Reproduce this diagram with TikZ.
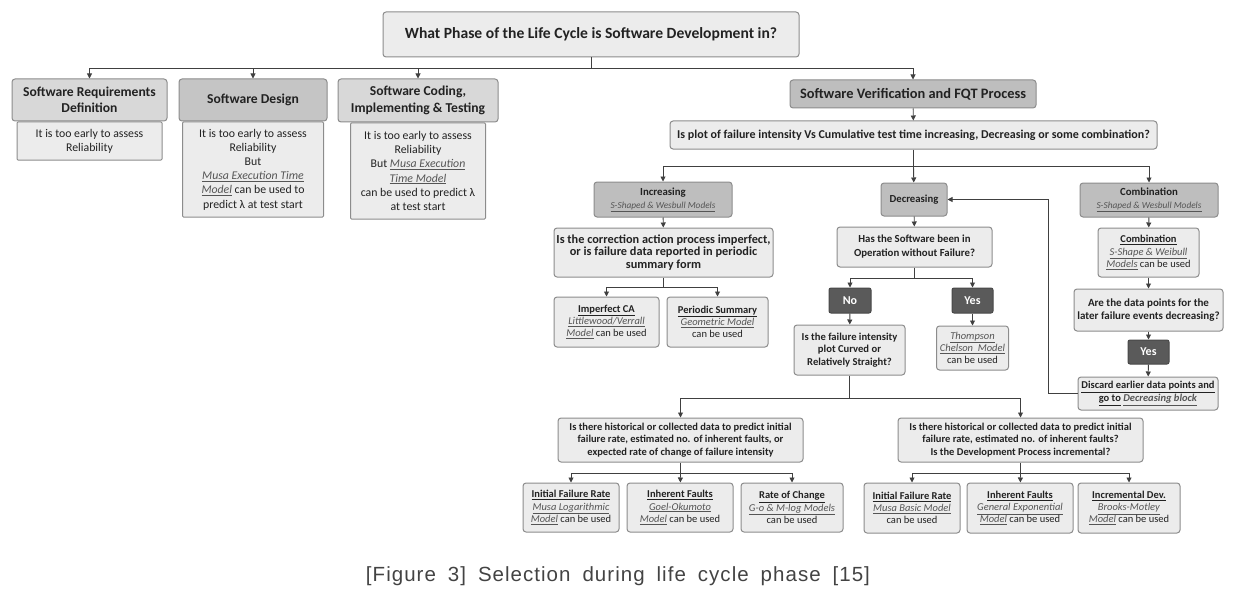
\documentclass[tikz,border=0pt]{standalone}
\usepackage{fontspec}
\setmainfont{Carlito}
\newfontfamily\capfont[LetterSpace=5]{Liberation Sans}
\usetikzlibrary{arrows.meta,positioning}
\definecolor{lightbox}{HTML}{ECECEC}
\definecolor{darkbox}{HTML}{BEBEBE}
\definecolor{headbox}{HTML}{D8D8D8}
\definecolor{edgegray}{HTML}{8C8C8C}
\definecolor{nyfill}{HTML}{5A5A5A}
\definecolor{conn}{HTML}{404040}
\definecolor{txt}{HTML}{222222}
\definecolor{modeltxt}{HTML}{555555}
\newcommand{\fsz}[2]{\fontsize{#1}{#2}\selectfont}
\newcommand{\mdl}[1]{{\color{modeltxt}\underline{\textit{#1}}}}
\newcommand{\hd}[1]{\underline{\textbf{#1}}}

\begin{document}
\begin{tikzpicture}[x=1pt,y=-1pt,
  lbox/.style={draw=edgegray, fill=lightbox, rounded corners=3pt, line width=1pt, align=center, inner sep=1pt, text=txt},
  dbox/.style={lbox, fill=darkbox},
  hbox/.style={lbox, fill=headbox, font=\bfseries\fsz{13.6}{16.5}},
  bbox/.style={lbox, rounded corners=1pt, font=\fsz{11.8}{14.2}},
  qbox/.style={lbox, font=\bfseries\fsz{12.3}{12.8}},
  mbox/.style={lbox, font=\fsz{10.5}{12.2}},
  nbox/.style={draw=nyfill!80!black, fill=nyfill, rounded corners=2pt, line width=1pt, text=white, font=\bfseries\fsz{12}{14}},
  con/.style={line width=0.9pt, draw=conn},
  arr/.style={con, -{Triangle[width=5pt,length=5pt]}}]
  \useasboundingbox (0,0) rectangle (1244,591);

  % top question
  \node[lbox, minimum width=416pt, minimum height=45pt, font=\bfseries\fsz{15.6}{18}] (phase) at (591,34.5) {What Phase of the Life Cycle is Software Development in?};
  \coordinate (pbar) at (591,68);

  % early phases
  \node[hbox, minimum width=155pt, minimum height=42pt] (reqH) at (89.5,100) {Software Requirements\\Definition};
  \node[bbox, minimum width=145pt, minimum height=38pt, below=0pt of reqH] (reqB) {It is too early to assess\\Reliability};
  \node[hbox, fill=darkbox!90!white, minimum width=148pt, minimum height=42pt] (desH) at (253,100) {Software Design};
  \node[bbox, minimum width=141pt, minimum height=95pt, below=0pt of desH] (desB) {It is too early to assess\\Reliability\\But\\\mdl{Musa Execution Time}\\\mdl{Model} can be used to\\predict λ at test start};
  \node[hbox, minimum width=160pt, minimum height=43pt] (codH) at (418,100.5) {Software Coding,\\Implementing \& Testing};
  \node[bbox, minimum width=135pt, minimum height=96pt, below=0pt of codH] (codB) {It is too early to assess\\Reliability\\But \mdl{Musa Execution}\\\mdl{Time Model}\\can be used to predict λ\\at test start};

  % verification and FQT
  \node[dbox, minimum width=246pt, minimum height=28pt, font=\bfseries\fsz{14.4}{16}] (verif) at (913,94) {Software Verification and FQT Process};
  \node[lbox, minimum width=487pt, minimum height=28pt, font=\bfseries\fsz{12}{13}] (trend) at (913.5,135) {Is plot of failure intensity Vs Cumulative test time increasing, Decreasing or some combination?};
  \coordinate (tbar) at (913.5,166);

  \draw[con] (phase) -- (pbar);
  \draw[arr] (pbar) -| (reqH);
  \draw[arr] (pbar) -| (desH);
  \draw[arr] (pbar) -| (codH);
  \draw[arr] (pbar) -| (verif);
  \draw[arr] (verif) -- (trend);
  \draw[con] (trend) -- (tbar);

  \node[dbox, minimum width=138pt, minimum height=35pt, font=\fsz{10.8}{13}] (incr) at (663,199.5) {\textbf{Increasing}\\{\fsz{9.3}{11}\mdl{S-Shaped \& Wesbull Models}}};
  \node[dbox, minimum width=66pt, minimum height=33pt, font=\bfseries\fsz{10.7}{12}] (decr) at (914,199.5) {Decreasing};
  \node[dbox, minimum width=138pt, minimum height=34pt, font=\fsz{10.8}{13}] (comb) at (1149,200) {\textbf{Combination}\\{\fsz{9.3}{11}\mdl{S-Shaped \& Wesbull Models}}};
  \draw[arr] (tbar) -| (incr);
  \draw[arr] (tbar) -- (decr);
  \draw[arr] (tbar) -| (comb);

  % increasing branch
  \node[qbox, minimum width=219pt, minimum height=49pt] (corr) at (663.5,252.5) {Is the correction action process imperfect,\\or is failure data reported in periodic\\summary form};
  \coordinate (cbar) at (663.5,287);
  \node[mbox, minimum width=105pt, minimum height=50pt] (impCA) at (606.5,322) {\hd{Imperfect CA}\\\mdl{Littlewood/Verrall}\\\mdl{Model} can be used};
  \node[mbox, minimum width=101pt, minimum height=50pt] (perSum) at (717.5,322) {\hd{Periodic Summary}\\\mdl{Geometric Model}\\can be used};
  \draw[arr] (incr) -- (corr);
  \draw[con] (corr) -- (cbar);
  \draw[arr] (cbar) -| (impCA);
  \draw[arr] (cbar) -| (perSum);

  % decreasing branch
  \node[qbox, font=\bfseries\fsz{10.8}{14}, minimum width=155pt, minimum height=40pt] (oper) at (914.5,247) {Has the Software been in\\Operation without Failure?};
  \coordinate (obar) at (914.5,278);
  \node[nbox, minimum width=42pt, minimum height=25pt] (opNo) at (850,300.5) {No};
  \node[nbox, minimum width=41pt, minimum height=25pt] (opYes) at (972.5,300.5) {Yes};
  \node[qbox, font=\bfseries\fsz{10.6}{12.4}, minimum width=111pt, minimum height=50pt] (curve) at (849.5,350) {Is the failure intensity\\plot Curved or\\Relatively Straight?};
  \node[mbox, minimum width=72pt, minimum height=44pt] (thomp) at (972.5,348) {\mdl{Thompson}\\\mdl{Chelson\ \ Model}\\can be used};
  \draw[arr] (decr) -- (oper);
  \draw[con] (oper) -- (obar);
  \draw[arr] (obar) -| (opNo);
  \draw[arr] (obar) -| (opYes);
  \draw[arr] (opNo) -- (curve);
  \draw[arr] (opYes) -- (thomp);

  % combination branch
  \node[mbox, minimum width=101pt, minimum height=49pt] (combM) at (1148.5,252.5) {\hd{Combination}\\\mdl{S-Shape \& Weibull}\\\mdl{Models} can be used};
  \node[qbox, font=\bfseries\fsz{11}{13}, minimum width=149pt, minimum height=42pt] (pts) at (1148.5,310) {Are the data points for the\\later failure events decreasing?};
  \node[nbox, minimum width=41pt, minimum height=24pt] (cbYes) at (1148.5,352) {Yes};
  \node[qbox, font=\bfseries\fsz{10.5}{13}, minimum width=140pt, minimum height=33pt] (disc) at (1148,393.5) {\underline{Discard earlier data points and}\\\underline{go to} \mdl{Decreasing block}};
  \coordinate (fb) at (1048,393.5);
  \draw[arr] (comb) -- (combM);
  \draw[arr] (combM) -- (pts);
  \draw[arr] (pts) -- (cbYes);
  \draw[arr] (cbYes) -- (disc);
  \draw[arr] (disc) -- (fb) |- (decr);

  % historical data questions
  \coordinate (cvbar) at (849.5,398);
  \node[qbox, font=\bfseries\fsz{10.5}{12.5}, minimum width=245pt, minimum height=44pt] (histL) at (680.5,440) {Is there historical or collected data to predict initial\\failure rate, estimated no. of inherent faults, or\\expected rate of change of failure intensity};
  \node[qbox, font=\bfseries\fsz{10.5}{12.5}, minimum width=245pt, minimum height=44pt] (histR) at (1020.5,440) {Is there historical or collected data to predict initial\\failure rate, estimated no. of inherent faults?\\Is the Development Process incremental?};
  \draw[con] (curve) -- (cvbar);
  \draw[arr] (cvbar) -| (histL);
  \draw[arr] (cvbar) -| (histR);

  % model choices
  \coordinate (hlbar) at (680.5,473);
  \coordinate (hrbar) at (1020.5,473);
  \node[mbox, minimum width=96pt, minimum height=49pt] (ifrL) at (571,507.5) {\hd{Initial Failure Rate}\\\mdl{Musa Logarithmic}\\\mdl{Model} can be used};
  \node[mbox, minimum width=106pt, minimum height=49pt] (ihfL) at (680,507.5) {\hd{Inherent Faults}\\\mdl{Goel-Okumoto}\\\mdl{Model} can be used};
  \node[mbox, minimum width=102pt, minimum height=49pt] (rocL) at (792,507.5) {\hd{Rate of Change}\\\mdl{G-o \& M-log Models}\\can be used};
  \node[mbox, minimum width=96pt, minimum height=50pt] (ifrR) at (912,508) {\hd{Initial Failure Rate}\\\mdl{Musa Basic Model}\\can be used};
  \node[mbox, minimum width=106pt, minimum height=50pt] (ihfR) at (1020,508) {\hd{Inherent Faults}\\\mdl{General Exponential}\\\mdl{Model} can be used};
  \node[mbox, minimum width=102pt, minimum height=50pt] (incR) at (1129,508) {\hd{Incremental Dev.}\\\mdl{Brooks-Motley}\\\mdl{Model} can be used};
  \draw[con] (histL) -- (hlbar);
  \draw[arr] (hlbar) -| (ifrL);
  \draw[arr] (hlbar) -- (ihfL);
  \draw[arr] (hlbar) -| (rocL);
  \draw[con] (histR) -- (hrbar);
  \draw[arr] (hrbar) -| (ifrR);
  \draw[arr] (hrbar) -- (ihfR);
  \draw[arr] (hrbar) -| (incR);

  % caption
  \node[font=\capfont\fsz{20.5}{23}, text=txt!85!white] (cap) at (618,576) {\spaceskip=12pt\relax [Figure 3] Selection during life cycle phase [15]};
\end{tikzpicture}
\end{document}
